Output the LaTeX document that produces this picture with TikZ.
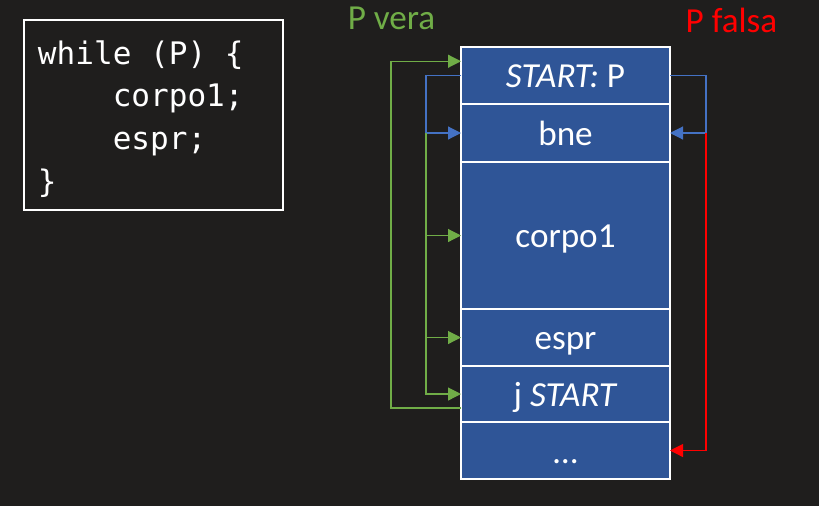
\documentclass[tikz,border=0pt]{standalone}
\usepackage{fontspec}
\setmainfont{Carlito}
\setmonofont{DejaVu Sans Mono}
\usepackage{tikz}
\usetikzlibrary{calc,positioning,arrows.meta}

\definecolor{bgdark}{RGB}{31,30,29}
\definecolor{rowblue}{RGB}{47,85,151}
\definecolor{linkblue}{RGB}{68,114,196}
\definecolor{truegreen}{RGB}{112,173,71}
\definecolor{falsered}{RGB}{255,0,0}

\newcommand{\codesp}{\hphantom{x}}

\tikzset{
	row/.style={draw=white, line width=1.6pt, fill=rowblue, text=white, minimum width=6.27cm,
		inner sep=0pt, outer sep=0pt, text height=21.3pt, text depth=0pt,
		font=\fontsize{30}{36}\selectfont},
	link/.style={line width=1pt, -{Triangle[length=0.39cm, width=0.39cm]}},
	bare/.style={line width=1pt}
}

\begin{document}
\begin{tikzpicture}[x=0.03cm, y=-0.03cm]
			%%%%% START %%%%%
			
			\fill[bgdark] (0, 0) rectangle (819, 506);
			\useasboundingbox (0, 0) rectangle (819, 506);
			
			% code on the left
			\node[draw=white, line width=1.6pt, minimum width=7.77cm, minimum height=5.7cm] (code) at (153.5, 115) {};
			\node[text=white, text width=7.77cm-0.84cm, inner xsep=0.42cm, align=left,
				font=\ttfamily\fontsize{26.5}{36.6}\selectfont] (codetext) at (153.5, 119)
				{while\codesp(P)\codesp\{\\\codesp\codesp\codesp\codesp corpo1;\\\codesp\codesp\codesp\codesp espr;\\\}};
			
			% the stack of instructions
			\node[row, minimum height=1.71cm] (start) at (565.5, 75.5) {\textit{START:} P};
			\node[row, minimum height=1.74cm, below=0pt of start] (bne) {bne};
			\node[row, minimum height=4.41cm, below=0pt of bne] (corpo) {corpo1};
			\node[row, minimum height=1.71cm, below=0pt of corpo] (espr) {espr};
			\node[row, minimum height=1.68cm, below=0pt of espr] (jstart) {j \textit{START}};
			\node[row, minimum height=1.71cm, below=0pt of jstart] (dots) {…};
			
			\node[text=truegreen, anchor=base, font=\fontsize{30}{36}\selectfont] (vera) at (391.5, 30) {P vera};
			\node[text=falsered, anchor=base, font=\fontsize{30}{36}\selectfont] (falsa) at (731.5, 33) {P falsa};
			
			% jump back to START
			\draw[link, truegreen] ($(jstart.north west)!0.75!(jstart.south west)$) -- ++(-70, 0)
				|- ($(start.north west)!0.25!(start.south west)$);
			
			% left side: P true
			\draw[link, linkblue] (start.west) -- ++(-35, 0) |- (bne.west);
			\coordinate (split) at ($(bne.west)+(-35, 0)$);
			\draw[bare, truegreen] (split) -- (split |- jstart.west);
			\draw[link, truegreen] (split) |- (corpo.west);
			\draw[link, truegreen] (split) |- (espr.west);
			\draw[link, truegreen] (split) |- (jstart.west);
			
			% right side: P false
			\draw[link, linkblue] (start.east) -- ++(36, 0) |- (bne.east);
			\draw[link, falsered] ($(bne.east)+(36, 0)$) |- (dots.east);
			
			%%%%% END %%%%%
		\end{tikzpicture}
\end{document}
